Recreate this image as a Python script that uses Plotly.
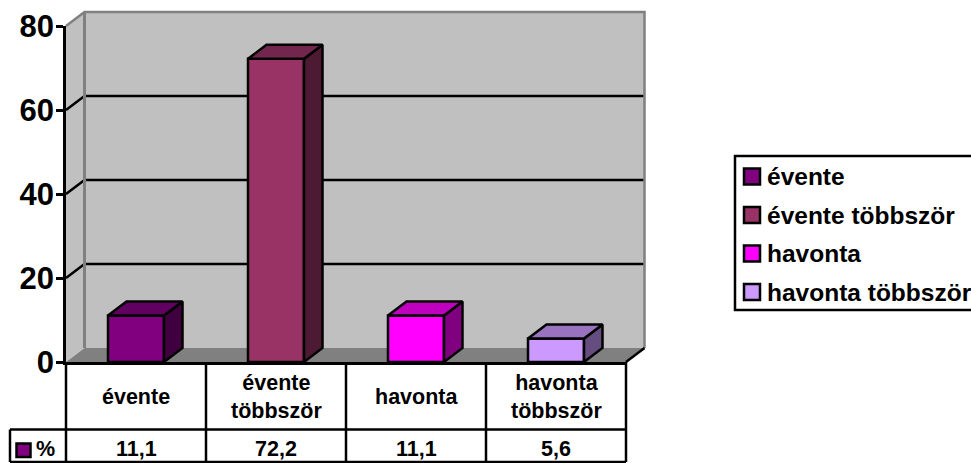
import plotly.graph_objects as go

categories = ["évente", "évente többször", "havonta", "havonta többször"]
table_labels = ["évente", "évente<br>többször", "havonta", "havonta<br>többször"]
values = [11.1, 72.2, 11.1, 5.6]
front_colors = ["#800080", "#993366", "#ff00ff", "#cc99ff"]
top_colors = ["#600060", "#73264d", "#bf00bf", "#9973bf"]
side_colors = ["#400040", "#4d1a33", "#800080", "#664d80"]
y_ticks = [0, 20, 40, 60, 80]

W, H = 971, 463
L, R, T, B = 66, 626, 26, 362          # front plane in pixels
DX, DY = 18.5, 14                      # depth of the walls and bars
BAR_W = 0.4
FONT = "Liberation Sans, Arial, sans-serif"
INK = "#000000"
WALL = "#c0c0c0"
EDGE = "#808080"
LW = 2.5

xunit = (R - L) / len(categories)
yunit = (B - T) / max(y_ticks)
ddx, ddy = DX / xunit, DY / yunit


def px(x):
    return (x - L) / (R - L)


def py(y):
    return (B - y) / (B - T)


def poly(points, fill, line, width=LW, layer="below"):
    path = "M" + "L".join(f"{px(a):.5f},{py(b):.5f}" for a, b in points) + "Z"
    return dict(type="path", xref="paper", yref="paper", path=path, fillcolor=fill,
                line=dict(color=line, width=width), layer=layer)


def seg(points, color=INK, width=LW, layer="below"):
    path = "M" + "L".join(f"{px(a):.5f},{py(b):.5f}" for a, b in points)
    return dict(type="path", xref="paper", yref="paper", path=path,
                line=dict(color=color, width=width), layer=layer)


def text(x, y, s, size, anchor="center", xref="paper"):
    return dict(x=x if xref != "paper" else px(x), y=py(y), xref=xref, yref="paper", text=s,
                showarrow=False, xanchor=anchor, yanchor="middle", align="center",
                font=dict(family=FONT, size=size, color=INK, weight="bold"))


fig = go.Figure()

for i, (name, v) in enumerate(zip(categories, values)):
    fig.add_trace(go.Bar(x=[i], y=[v], width=BAR_W, name=name, showlegend=False,
                         marker=dict(color=front_colors[i], line=dict(color=INK, width=LW)),
                         cliponaxis=False))

for i, v in enumerate(values):
    a, b = i - BAR_W / 2, i + BAR_W / 2
    fig.add_trace(go.Scatter(x=[b, b + ddx, b + ddx, b, b], y=[0, ddy, v + ddy, v, 0],
                             mode="lines", fill="toself", fillcolor=side_colors[i],
                             line=dict(color=INK, width=LW), cliponaxis=False,
                             showlegend=False, hoverinfo="skip"))
    fig.add_trace(go.Scatter(x=[a, a + ddx, b + ddx, b, a], y=[v, v + ddy, v + ddy, v, v],
                             mode="lines", fill="toself", fillcolor=top_colors[i],
                             line=dict(color=INK, width=LW), cliponaxis=False,
                             showlegend=False, hoverinfo="skip"))

shapes = []
# walls and floor
shapes.append(poly([(L, B), (L + DX, B - DY), (L + DX, T - DY), (L, T)], WALL, WALL, 0))
shapes.append(poly([(L + DX, B - DY), (R + DX, B - DY), (R + DX, T - DY), (L + DX, T - DY)], WALL, WALL, 0))
for tick in y_ticks[1:-1]:
    y = B - tick * yunit
    shapes.append(seg([(L, y), (L + DX, y - DY), (R + DX, y - DY)]))
shapes.append(seg([(L, T), (L + DX, T - DY), (R + DX, T - DY), (R + DX, B - DY)], EDGE, 2.5))
shapes.append(seg([(L + DX, T - DY), (L + DX, B - DY)], EDGE, 3))
shapes.append(poly([(L, B), (L + DX, B - DY), (R + DX, B - DY), (R, B)], EDGE, EDGE, 0))
shapes.append(seg([(R, B), (R + DX, B - DY)]))

# data table
ROW1, ROW2 = 429.5, 462
for i in range(len(categories) + 1):
    x = L + i * xunit
    shapes.append(seg([(x, B), (x, ROW2)]))
shapes.append(seg([(10, ROW1), (R, ROW1)]))
shapes.append(seg([(10, ROW2), (R, ROW2)]))
shapes.append(seg([(10, ROW1), (10, ROW2)]))
shapes.append(poly([(16.5, 443.5), (30.5, 443.5), (30.5, 457), (16.5, 457)], front_colors[0], INK, 2.5))

annotations = []
for i, (lab, v) in enumerate(zip(table_labels, values)):
    annotations.append(text(i, 396.5, lab, 21.5, xref="x"))
    annotations.append(text(i, 449, f"{v:.1f}".replace(".", ","), 21.5, xref="x"))
annotations.append(text(34, 449, "%", 21.5, anchor="left"))

# legend
LEG_L, LEG_T, LEG_B = 735, 156, 310
shapes.append(seg([(W + 4, LEG_T), (LEG_L, LEG_T), (LEG_L, LEG_B), (W + 4, LEG_B)]))
rows = [176.5, 215, 253.5, 292]
for name, color, y in zip(categories, front_colors, rows):
    shapes.append(poly([(744, y - 8), (760, y - 8), (760, y + 8), (744, y + 8)], color, INK, 2.5))
    annotations.append(text(765, y, name, 24.5, anchor="left"))

fig.update_layout(
    width=W, height=H, autosize=False,
    margin=dict(l=L, r=W - R, t=T, b=H - B, pad=0, autoexpand=False),
    paper_bgcolor="#ffffff", plot_bgcolor="rgba(0,0,0,0)",
    showlegend=False, barmode="overlay",
    shapes=shapes, annotations=annotations,
    font=dict(family=FONT, color=INK),
    xaxis=dict(range=[-0.5, len(categories) - 0.5], tickvals=[], showgrid=False, automargin=False,
               zeroline=False, showline=True, linecolor=INK, linewidth=LW),
    yaxis=dict(range=[0, max(y_ticks)], tickvals=y_ticks, ticks="outside", ticklen=7,
               tickwidth=LW, tickcolor=INK, showgrid=False, zeroline=False, automargin=False,
               showline=True, linecolor=INK, linewidth=LW,
               ticklabelstandoff=-4, ticklabelshift=0,
               tickfont=dict(family=FONT, size=31, color=INK, weight="bold")),
)

fig.write_html("out.html", config={"displayModeBar": False},
               post_script="document.body.style.margin='0';document.body.style.overflow='hidden';")
